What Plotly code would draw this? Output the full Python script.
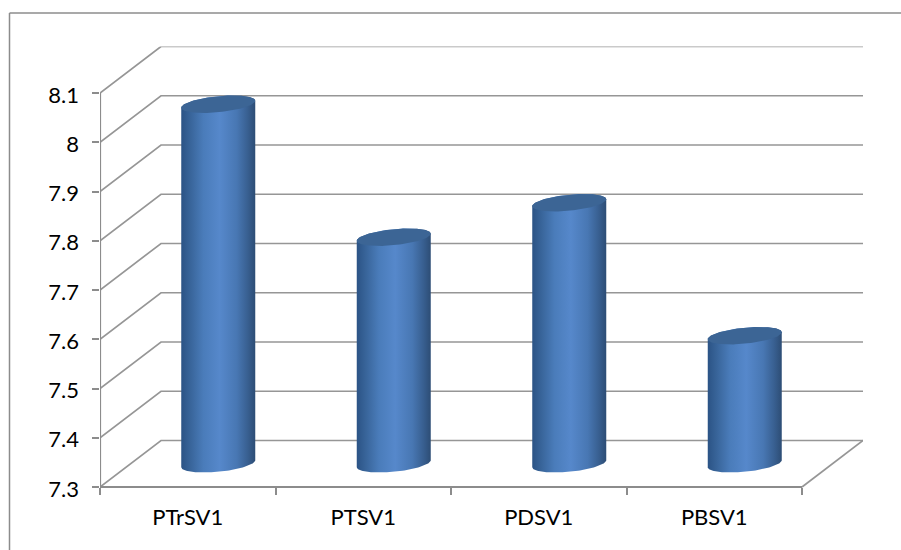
import numpy as np
import plotly.graph_objects as go

# Chart data
categories = ["PTrSV1", "PTSV1", "PDSV1", "PBSV1"]
values = [8.03, 7.76, 7.83, 7.56]
y_ticks = [7.3, 7.4, 7.5, 7.6, 7.7, 7.8, 7.9, 8.0, 8.1]
y_labels = ["7.3", "7.4", "7.5", "7.6", "7.7", "7.8", "7.9", "8", "8.1"]

# Canvas and plot geometry, in pixels
W, H = 901, 550
FRONT_L, FRONT_R = 100, 802
FRONT_B, FRONT_T = 487, 93
DEPTH_X, DEPTH_Y = 61, 46.5
LABEL_DROP = 2  # value labels sit slightly below their tick marks
PAD_B = 4       # room under the lowest value so its label stays inside the axis range

# Pixel sizes converted to axis units
ux = (FRONT_R - FRONT_L) / len(categories)
uy = (FRONT_B - FRONT_T) / (y_ticks[-1] - y_ticks[0])
dx, dy = DEPTH_X / ux, DEPTH_Y / uy
x0, x1 = -0.5, len(categories) - 0.5
y0 = y_ticks[0]

GRID = "#969696"
AXIS = "#8c8c8c"

fig = go.Figure()


def line(xs, ys, color=GRID, width=1.7):
    fig.add_trace(go.Scatter(x=xs, y=ys, mode="lines", cliponaxis=False, hoverinfo="skip",
                             line=dict(color=color, width=width), showlegend=False))


# Side and back walls: one bent gridline per tick
for v in y_ticks:
    line([x0, x0 + dx, x1 + dx], [v, v + dy, v + dy])

# Floor edges and the front axes
line([x1, x1 + dx], [y0, y0 + dy])
line([x0, x1], [y0, y0], AXIS, 2.2)
line([x0, x0], [y0, y_ticks[-1]], AXIS, 2.2)

# Cylinders: each stands mid-way through the depth of the floor
RX = 37 / ux
RY = 8 / uy
TILT = 3.5 / uy
BODY_STOPS = [[0, "#2b5385"], [0.12, "#386499"], [0.3, "#4a7cba"], [0.52, "#5688cb"],
              [0.75, "#4877b3"], [0.9, "#385f90"], [1, "#2d4d75"]]

t = np.linspace(0, 2 * np.pi, 121)


def ellipse(cx, cy, angles):
    return cx + RX * np.cos(angles), cy + RY * np.sin(angles) + TILT * np.cos(angles)


for i, value in enumerate(values):
    cx = i + dx / 2
    top = value + dy / 2
    base = y0 + dy / 2

    # Outline: lower half of the base ellipse, then back across the top ellipse
    lower = np.linspace(np.pi, 2 * np.pi, 60)
    upper = np.linspace(0, np.pi, 60)
    bx, by = ellipse(cx, base, lower)
    tx, ty = ellipse(cx, top, upper)
    fig.add_trace(go.Scatter(
        x=np.r_[bx, tx], y=np.r_[by, ty], mode="lines", fill="toself", cliponaxis=False,
        line=dict(width=0), hoverinfo="skip", showlegend=False,
        fillgradient=dict(type="horizontal", colorscale=BODY_STOPS,
                          start=cx - RX, stop=cx + RX),
    ))
    ex, ey = ellipse(cx, top, t)
    fig.add_trace(go.Scatter(
        x=ex, y=ey, mode="lines", fill="toself", cliponaxis=False, fillcolor="#3c6595",
        line=dict(width=0), name=categories[i], showlegend=False,
        text=f"{categories[i]}: {value}", hoverinfo="text",
    ))

FONT = dict(family="Lato, Carlito, sans-serif", size=22, color="#000000")

fig.update_layout(
    width=W, height=H,
    margin=dict(l=0, r=0, t=0, b=0, autoexpand=False),
    paper_bgcolor="white", plot_bgcolor="white",
    showlegend=False,
    xaxis=dict(
        automargin=False,
        domain=[FRONT_L / W, (FRONT_R + DEPTH_X) / W],
        range=[x0, x1 + dx],
        anchor="free",
        position=1 - FRONT_B / H,
        tickmode="array",
        tickvals=list(range(len(categories))),
        ticktext=categories,
        ticks="", showgrid=False, zeroline=False, showline=False,
        ticklabelstandoff=15, tickfont=FONT,
        minor=dict(tickmode="array", tickvals=[i - 0.5 for i in range(len(categories) + 1)],
                   ticks="outside", ticklen=7, tickcolor=AXIS, tickwidth=1.5, showgrid=False),
    ),
    yaxis=dict(
        automargin=False,
        domain=[1 - (FRONT_B + PAD_B) / H, 1 - (FRONT_T - DEPTH_Y) / H],
        range=[y0 - PAD_B / uy, y_ticks[-1] + dy],
        tickmode="array",
        tickvals=[v - LABEL_DROP / uy for v in y_ticks],
        ticktext=y_labels,
        ticks="", showgrid=False, zeroline=False, showline=False,
        ticklabelstandoff=20, tickfont=FONT,
        minor=dict(tickmode="array", tickvals=y_ticks,
                   ticks="outside", ticklen=7, tickcolor=AXIS, tickwidth=1.5, showgrid=False),
    ),
    shapes=[
        # Chart frame running off the right and bottom of the page
        dict(type="line", xref="paper", yref="paper", x0=9.5 / W, x1=1, y0=1 - 13 / H, y1=1 - 13 / H,
             line=dict(color="#8c8c8c", width=1.5)),
        dict(type="line", xref="paper", yref="paper", x0=9.5 / W, x1=9.5 / W, y0=0, y1=1 - 13 / H,
             line=dict(color="#8c8c8c", width=1.5)),
    ],
)

fig.write_html("out.html")
